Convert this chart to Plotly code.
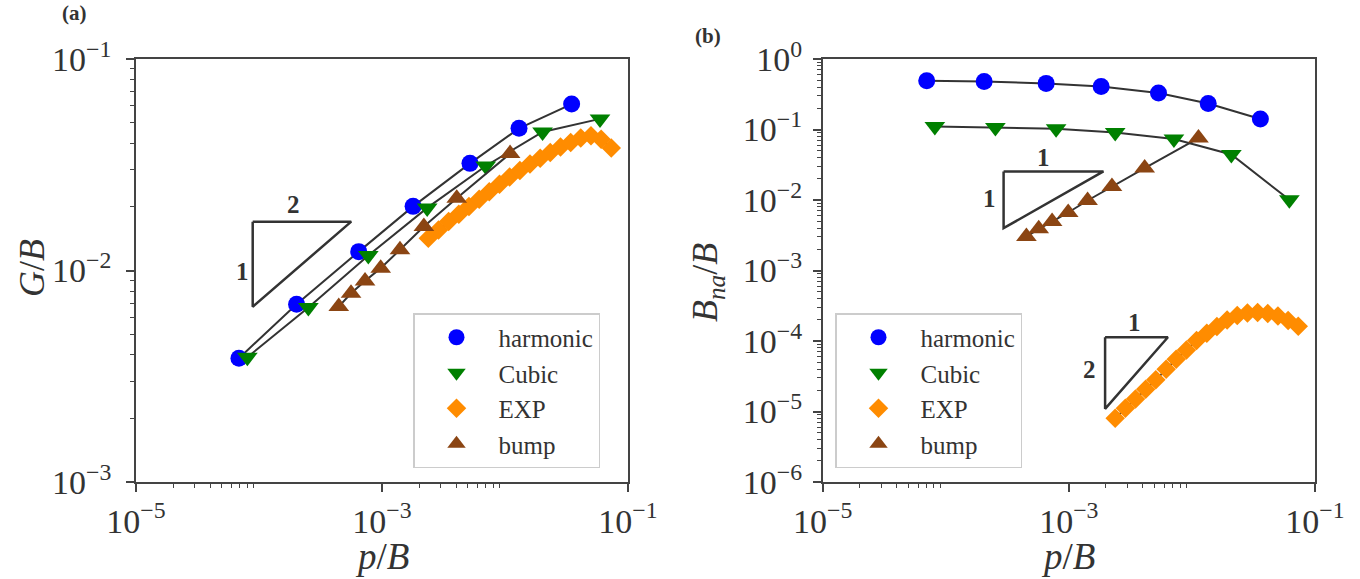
import plotly.graph_objects as go

# ---------------- data ----------------
# panel (a): G/B vs p/B
a_harm_x = [6.87e-5, 2.02e-4, 6.47e-4, 1.79e-3, 5.19e-3, 1.30e-2, 3.48e-2]
a_harm_y = [3.85e-3, 6.93e-3, 1.228e-2, 2.01e-2, 3.21e-2, 4.70e-2, 6.12e-2]
a_cub_x = [8.04e-5, 2.52e-4, 7.74e-4, 2.33e-3, 6.97e-3, 2.02e-2, 5.92e-2]
a_cub_y = [3.89e-3, 6.68e-3, 1.178e-2, 1.977e-2, 3.12e-2, 4.52e-2, 5.21e-2]
a_bump_x = [4.45e-4, 5.6e-4, 7.28e-4, 9.76e-4, 1.40e-3, 2.19e-3, 4.05e-3, 1.099e-2]
a_bump_y = [6.75e-3, 7.81e-3, 8.93e-3, 1.026e-2, 1.253e-2, 1.614e-2, 2.198e-2, 3.57e-2]
exp_x = [2.38e-3, 2.88e-3, 3.48e-3, 4.21e-3, 5.09e-3, 6.17e-3, 7.45e-3, 9.02e-3,
         1.091e-2, 1.321e-2, 1.596e-2, 1.932e-2, 2.334e-2, 2.825e-2, 3.42e-2,
         4.13e-2, 5.0e-2, 6.05e-2, 7.31e-2]
a_exp_y = [1.422e-2, 1.556e-2, 1.703e-2, 1.845e-2, 2.005e-2, 2.172e-2, 2.354e-2,
           2.56e-2, 2.766e-2, 2.972e-2, 3.186e-2, 3.398e-2, 3.611e-2, 3.834e-2,
           4.029e-2, 4.226e-2, 4.333e-2, 4.178e-2, 3.793e-2]

# panel (b): B_na/B vs p/B
b_harm_x = [7.0e-5, 2.05e-4, 6.54e-4, 1.83e-3, 5.35e-3, 1.356e-2, 3.60e-2]
b_harm_y = [0.492, 0.481, 0.451, 0.408, 0.329, 0.234, 0.1406]
b_cub_x = [8.15e-5, 2.53e-4, 7.88e-4, 2.38e-3, 7.14e-3, 2.09e-2, 6.19e-2]
b_cub_y = [0.110, 0.107, 0.1025, 0.0908, 0.0731, 0.0443, 0.01007]
b_bump_x = [4.52e-4, 5.69e-4, 7.31e-4, 9.88e-4, 1.42e-3, 2.24e-3, 4.13e-3, 1.13e-2]
b_bump_y = [3.03e-3, 3.90e-3, 4.95e-3, 6.65e-3, 9.84e-3, 1.556e-2, 2.84e-2, 7.57e-2]
b_exp_y = [8.0e-6, 1.11e-5, 1.51e-5, 2.07e-5, 2.81e-5, 3.98e-5, 5.52e-5, 7.48e-5,
           1.014e-4, 1.29e-4, 1.60e-4, 1.99e-4, 2.30e-4, 2.50e-4, 2.53e-4,
           2.45e-4, 2.27e-4, 1.95e-4, 1.62e-4]

# slope guide triangles (vertices in data units)
tri_a_x = [8.89e-5, 5.62e-4, 8.89e-5, 8.89e-5]
tri_a_y = [1.702e-2, 1.702e-2, 6.74e-3, 1.702e-2]
tri_b1_x = [2.95e-4, 1.91e-3, 2.95e-4, 2.95e-4]
tri_b1_y = [2.54e-2, 2.54e-2, 3.99e-3, 2.54e-2]
tri_b2_x = [1.97e-3, 6.38e-3, 1.97e-3, 1.97e-3]
tri_b2_y = [1.13e-4, 1.13e-4, 1.09e-5, 1.13e-4]

names = ["harmonic", "Cubic", "EXP", "bump"]
colors = ["#0000ff", "#008000", "#ff8c00", "#8b4513"]
symbols = ["circle", "triangle-down", "diamond", "triangle-up"]
sizes = [17, 18, 15, 18]

major_x = [1e-5, 1e-3, 1e-1]
major_x_txt = ["10<sup>−5</sup>", "10<sup>−3</sup>", "10<sup>−1</sup>"]
minor_x = [m * 1e-5 for m in range(2, 10)] + [m * 1e-3 for m in range(2, 10)]

major_ya = [1e-3, 1e-2, 1e-1]
major_ya_txt = ["10<sup>−3</sup>", "10<sup>−2</sup>", "10<sup>−1</sup>"]
minor_ya = [m * 10.0 ** e for e in (-3, -2) for m in range(2, 10)]

major_yb = [10.0 ** e for e in range(-6, 1)]
major_yb_txt = ["10<sup>−%d</sup>" % (-e) if e < 0 else "10<sup>0</sup>" for e in range(-6, 1)]
minor_yb = [m * 10.0 ** e for e in range(-6, 0) for m in range(2, 10)]

FONT = "Liberation Serif, DejaVu Serif, serif"
LINE = "#333333"
TXT = "#333333"

fig = go.Figure()

panel_a = [(a_harm_x, a_harm_y), (a_cub_x, a_cub_y), (exp_x, a_exp_y), (a_bump_x, a_bump_y)]
panel_b = [(b_harm_x, b_harm_y), (b_cub_x, b_cub_y), (exp_x, b_exp_y), (b_bump_x, b_bump_y)]

for panel, xa, ya, lg in [(panel_a, "x", "y", "legend"), (panel_b, "x2", "y2", "legend2")]:
    for (xs, ys), nm, c, s, sz in zip(panel, names, colors, symbols, sizes):
        fig.add_trace(go.Scatter(x=xs, y=ys, mode="lines", line=dict(color=LINE, width=2),
                                 showlegend=False, hoverinfo="skip", xaxis=xa, yaxis=ya))
        fig.add_trace(go.Scatter(x=xs, y=ys, mode="markers", name=nm,
                                 marker=dict(color=c, symbol=s, size=sz, line=dict(width=0)),
                                 xaxis=xa, yaxis=ya, legend=lg))

for tx, ty, xa, ya in [(tri_a_x, tri_a_y, "x", "y"), (tri_b1_x, tri_b1_y, "x2", "y2"),
                       (tri_b2_x, tri_b2_y, "x2", "y2")]:
    fig.add_trace(go.Scatter(x=tx, y=ty, mode="lines", line=dict(color=LINE, width=2.5),
                             showlegend=False, hoverinfo="skip", xaxis=xa, yaxis=ya))

def common_axis():
    return dict(ticks="outside", ticklen=8, tickwidth=1.5, tickcolor="#444",
                showline=True, linecolor="#444", linewidth=1.5, mirror=True,
                showgrid=False, zeroline=False,
                tickfont=dict(family=FONT, size=34, color=TXT))

def xax(domain, anchor):
    d = common_axis()
    d.update(type="log", domain=domain, anchor=anchor, range=[-5, -1],
             tickmode="array", tickvals=major_x, ticktext=major_x_txt,
             minor=dict(tickmode="array", tickvals=minor_x, ticks="outside",
                        ticklen=4, tickwidth=1.2, tickcolor="#444"))
    return d

def yax(rng, tv, tt, mv, anchor, standoff):
    d = common_axis()
    d.update(type="log", domain=[0, 1], anchor=anchor, range=rng,
             tickmode="array", tickvals=tv, ticktext=tt, ticklabelstandoff=standoff,
             minor=dict(tickmode="array", tickvals=mv, ticks="outside",
                        ticklen=4, tickwidth=1.2, tickcolor="#444"))
    return d

legend_common = dict(font=dict(family=FONT, size=25, color=TXT),
                     bgcolor="white", bordercolor="#cccccc", borderwidth=1.5,
                     itemwidth=74, tracegroupgap=0, yanchor="bottom", xanchor="left")

ann = []
def label(txt, x, y, xref, yref, size=25):
    ann.append(dict(text="<b>%s</b>" % txt, x=x, y=y, xref=xref, yref=yref,
                    xanchor="center", yanchor="middle",
                    showarrow=False, font=dict(family=FONT, size=size, color=TXT)))

# triangle labels (log10 coordinates on log axes)
label("2", -3.72, -1.689, "x", "y")
label("1", -4.138, -2.005, "x", "y")
label("1", -3.21, -1.391, "x2", "y2")
label("1", -3.645, -1.983, "x2", "y2")
label("1", -2.468, -3.739, "x2", "y2")
label("2", -2.829, -4.41, "x2", "y2")

W = 1179.0
H = 423.0
def px(x):
    return (x - 136) / W
def py(y):
    return (482 - y) / H

def text_ann(txt, x, y, size, angle=0):
    ann.append(dict(text=txt, x=px(x), y=py(y), xref="paper", yref="paper",
                    xanchor="center", yanchor="middle", textangle=angle,
                    showarrow=False, font=dict(family=FONT, size=size, color=TXT)))

text_ann("<i>p</i>/<i>B</i>", 382, 556, 37)
text_ann("<i>p</i>/<i>B</i>", 1068, 556, 37)
text_ann("<i>G</i>/<i>B</i>", 32, 268, 36, -90)
text_ann("<i>B</i><sub><i>na</i></sub>/<i>B</i>", 707, 283, 36, -90)
text_ann("<b>(a)</b>", 74, 13, 21)
text_ann("<b>(b)</b>", 708, 36, 21)

fig.update_layout(
    width=1360, height=579,
    margin=dict(l=136, r=45, t=59, b=97),
    paper_bgcolor="white", plot_bgcolor="white",
    font=dict(family=FONT, color=TXT),
    xaxis=xax([0, 492 / W], "y"),
    yaxis=yax([-3, -1], major_ya, major_ya_txt, minor_ya, "x", 8),
    xaxis2=xax([(822.7 - 136) / W, 1], "y2"),
    yaxis2=yax([-6, 0], major_yb, major_yb_txt, minor_yb, "x2", 4),
    legend=dict(x=px(413), y=py(468), **legend_common),
    legend2=dict(x=px(835), y=py(468), **legend_common),
    annotations=ann,
    showlegend=True,
)

fig.write_html("out.html", config={"displayModeBar": False},
               post_script="document.body.style.margin='0px';document.body.style.overflow='hidden';")
